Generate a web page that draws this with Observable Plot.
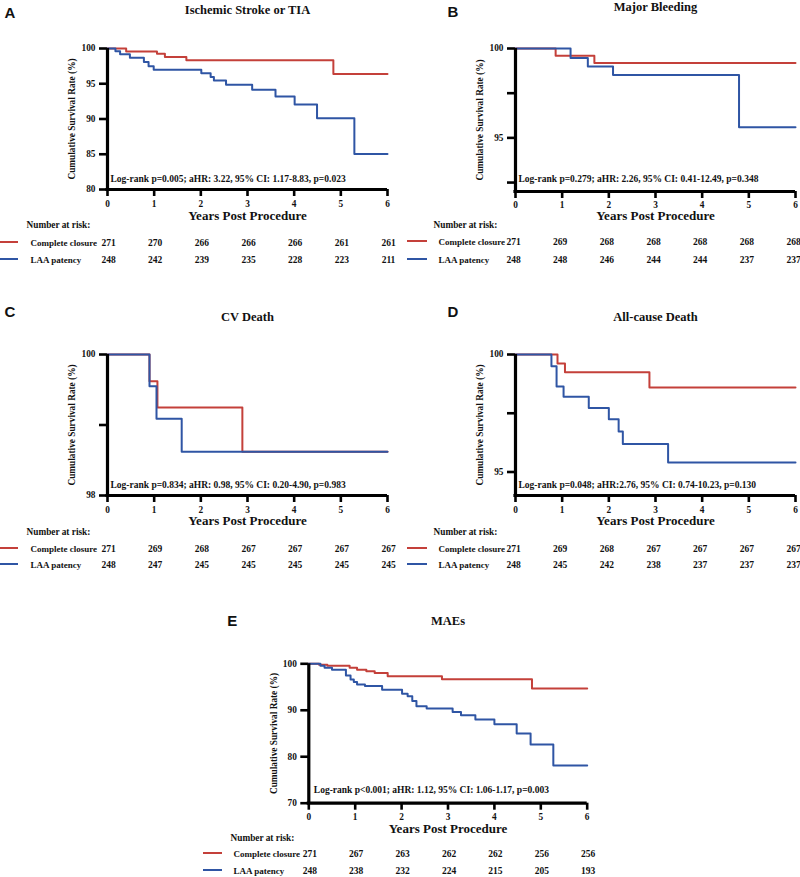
<!DOCTYPE html>
<html><head><meta charset="utf-8">
<script src="https://cdn.jsdelivr.net/npm/d3@7"></script>
<script src="https://cdn.jsdelivr.net/npm/@observablehq/plot@0.6"></script>
<style>
body{margin:0;background:#fff;}
#root{position:relative;width:800px;height:877px;overflow:hidden;background:#fff;}
.panel{position:absolute;}
.sw{position:absolute;height:2px;}
</style></head><body><div id="root"></div>
<script>
const RED = "#c4403a", BLUE = "#2f55a4";
const years = [0, 1, 2, 3, 4, 5, 6];
const groups = ["Complete closure", "LAA patency"];
const yLabelText = "Cumulative Survival Rate (%)";
const xLabelText = "Years Post Procedure";
const narText = "Number at risk:";

// Panel A
const aTitle = "Ischemic Stroke or TIA";
const aStat = "Log-rank p=0.005; aHR: 3.22, 95% CI: 1.17-8.83, p=0.023";
const aClosureT = [0, 0.4, 1.06, 1.23, 1.69, 4.84, 6];
const aClosureS = [100, 99.57, 99.24, 98.8, 98.35, 96.4, 96.4];
const aPatencyT = [0, 0.17, 0.27, 0.48, 0.78, 0.88, 0.99, 2.01, 2.21, 2.28, 2.54, 3.1, 3.6, 4.01, 4.49, 5.29, 6];
const aPatencyS = [100, 99.6, 99.2, 98.7, 98.1, 97.5, 97.0, 96.5, 95.95, 95.45, 94.85, 94.15, 93.2, 92.05, 90.1, 85.05, 85.05];
const aRiskC = [271, 270, 266, 266, 266, 261, 261];
const aRiskP = [248, 242, 239, 235, 228, 223, 211];
const aYDomain = [80, 100];
const aYTicks = [80, 85, 90, 95, 100];
const aYLabeled = [80, 85, 90, 95, 100];

// Panel B
const bTitle = "Major Bleeding";
const bStat = "Log-rank p=0.279; aHR: 2.26, 95% CI: 0.41-12.49, p=0.348";
const bClosureT = [0, 0.86, 1.69, 6];
const bClosureS = [100, 99.6, 99.19, 99.19];
const bPatencyT = [0, 1.18, 1.55, 2.09, 4.79, 6];
const bPatencyS = [100, 99.47, 99.0, 98.52, 95.6, 95.6];
const bRiskC = [271, 269, 268, 268, 268, 268, 268];
const bRiskP = [248, 248, 246, 244, 244, 237, 237];
const bYDomain = [92, 100];
const bYTicks = [92.5, 95, 97.5, 100];
const bYLabeled = [95, 100];

// Panel C
const cTitle = "CV Death";
const cStat = "Log-rank p=0.834; aHR: 0.98, 95% CI: 0.20-4.90, p=0.983";
const cClosureT = [0, 0.9, 1.07, 2.89, 6];
const cClosureS = [100, 99.62, 99.25, 98.62, 98.62];
const cPatencyT = [0, 0.9, 1.05, 1.59, 6];
const cPatencyS = [100, 99.55, 99.09, 98.62, 98.62];
const cRiskC = [271, 269, 268, 267, 267, 267, 267];
const cRiskP = [248, 247, 245, 245, 245, 245, 245];
const cYDomain = [98, 100];
const cYTicks = [98, 99, 100];
const cYLabeled = [98, 100];

// Panel D
const dTitle = "All-cause Death";
const dStat = "Log-rank p=0.048; aHR:2.76, 95% CI: 0.74-10.23, p=0.130";
const dClosureT = [0, 0.9, 1.06, 2.87, 6];
const dClosureS = [100, 99.62, 99.24, 98.6, 98.6];
const dPatencyT = [0, 0.77, 0.88, 1.03, 1.57, 2.0, 2.21, 2.3, 3.27, 6];
const dPatencyS = [100, 99.5, 98.64, 98.2, 97.72, 97.25, 96.72, 96.19, 95.4, 95.4];
const dRiskC = [271, 269, 268, 267, 267, 267, 267];
const dRiskP = [248, 245, 242, 238, 237, 237, 237];
const dYDomain = [94, 100];
const dYTicks = [95, 97.5, 100];
const dYLabeled = [95, 100];

// Panel E
const eTitle = "MAEs";
const eStat = "Log-rank p<0.001; aHR: 1.12, 95% CI: 1.06-1.17, p=0.003";
const eClosureT = [0, 0.22, 0.4, 0.88, 1.04, 1.24, 1.42, 1.7, 2.87, 4.81, 6];
const eClosureS = [100, 99.8, 99.57, 99.14, 98.7, 98.4, 98.0, 97.3, 96.7, 94.7, 94.7];
const ePatencyT = [0, 0.25, 0.34, 0.5, 0.8, 0.9, 0.97, 1.04, 1.21, 1.58, 2.01, 2.13, 2.23, 2.32, 2.54, 3.1, 3.28, 3.59, 4.0, 4.48, 4.78, 5.27, 6];
const ePatencyS = [100, 99.57, 99.14, 98.7, 97.5, 96.6, 96.06, 95.57, 95.2, 94.4, 93.57, 93.0, 92.0, 90.86, 90.36, 89.64, 88.93, 88.0, 87.0, 85.0, 82.65, 78.1, 78.1];
const eRiskC = [271, 267, 263, 262, 262, 256, 256];
const eRiskP = [248, 238, 232, 224, 215, 205, 193];
const eYDomain = [70, 100];
const eYTicks = [70, 80, 90, 100];
const eYLabeled = [70, 80, 90, 100];

function km(ts, ss, g) { return ts.map((t, i) => ({t, s: ss[i], g})); }

const root = document.getElementById("root");

function panel(d, L) {
  const data = km(d.cT, d.cS, groups[0]).concat(km(d.pT, d.pS, groups[1]));
  const fw = L.w - L.ml - L.mr;
  const fh = L.h - L.mt - L.mb;
  const p = Plot.plot({
    width: L.w, height: L.h,
    marginLeft: L.ml, marginRight: L.mr, marginTop: L.mt, marginBottom: L.mb,
    style: {fontFamily: "Liberation Serif", fontWeight: "bold", fontSize: "9.5px", overflow: "visible", background: "transparent", color: "#111"},
    x: {domain: [0, 6], axis: null},
    y: {domain: d.yDomain, axis: null},
    color: {domain: groups, range: [RED, BLUE]},
    marks: [
      Plot.tickX(years, {x: v => v, insetTop: fh, insetBottom: -7, strokeWidth: 2.6, stroke: "#000"}),
      Plot.tickY(d.yTicks, {y: v => v, insetLeft: -8, insetRight: fw, strokeWidth: 2.6, stroke: "#000"}),
      Plot.text(years, {x: v => v, text: v => String(v), frameAnchor: "bottom", dy: L.xLab, lineAnchor: "bottom", fontSize: 9.3}),
      Plot.text(d.yLabeled, {y: v => v, text: v => String(v), frameAnchor: "left", dx: -12, textAnchor: "end", lineAnchor: "middle", fontSize: 9.3}),
      Plot.line(data, {x: "t", y: "s", z: "g", stroke: "g", curve: "step-after", strokeWidth: 2}),
      Plot.ruleY([d.yDomain[0]], {strokeWidth: 3.2, stroke: "#000", insetLeft: -1.6}),
      Plot.ruleX([0], {strokeWidth: 3.2, stroke: "#000"}),
      Plot.text([d.title], {frameAnchor: "top", dy: L.titleDy, lineAnchor: "bottom", fontSize: 12.5}),
      Plot.text([d.letter], {frameAnchor: "top-left", dx: L.letterDx, dy: L.letterDy, textAnchor: "start", lineAnchor: "bottom", fontFamily: "Liberation Sans", fontSize: 15}),
      Plot.text([yLabelText], {frameAnchor: "left", dx: -35, rotate: -90, textAnchor: "middle", fontSize: 9.3}),
      Plot.text([d.stat], {frameAnchor: "bottom-left", dx: L.statDx, dy: L.statDy, textAnchor: "start", lineAnchor: "bottom", fontSize: 9.5}),
      Plot.text([xLabelText], {frameAnchor: "bottom", dy: L.yearsDy, lineAnchor: "bottom", fontSize: 13}),
      Plot.text([narText], {frameAnchor: "bottom-left", dx: L.narDx, dy: L.narDy, textAnchor: "start", lineAnchor: "bottom", fontSize: 9.3}),
      Plot.text([groups[0]], {frameAnchor: "bottom-left", dx: L.labelDx, dy: L.row1, textAnchor: "start", lineAnchor: "bottom", fontSize: 9}),
      Plot.text([groups[1]], {frameAnchor: "bottom-left", dx: L.labelDx, dy: L.row2, textAnchor: "start", lineAnchor: "bottom", fontSize: 9}),
      Plot.text(years, {x: v => v, text: (v, i) => String(d.riskC[i]), frameAnchor: "bottom", dx: L.numDx, dy: L.row1, lineAnchor: "bottom", fontSize: 9.5}),
      Plot.text(years, {x: v => v, text: (v, i) => String(d.riskP[i]), frameAnchor: "bottom", dx: L.numDx, dy: L.row2, lineAnchor: "bottom", fontSize: 9.5})
    ]
  });
  const wrap = document.createElement("div");
  wrap.className = "panel";
  wrap.style.left = L.left + "px";
  wrap.style.top = L.top + "px";
  wrap.appendChild(p);
  root.appendChild(wrap);
  const bottomAbs = L.top + L.h - L.mb;
  [[L.row1, RED], [L.row2, BLUE]].forEach(([r, c]) => {
    const s = document.createElement("div");
    s.className = "sw";
    s.style.left = L.swX + "px";
    s.style.width = L.swW + "px";
    s.style.top = (bottomAbs + r - 4.5) + "px";
    s.style.background = c;
    root.appendChild(s);
  });
}

panel({letter: "A", title: aTitle, stat: aStat, cT: aClosureT, cS: aClosureS, pT: aPatencyT, pS: aPatencyS, riskC: aRiskC, riskP: aRiskP, yDomain: aYDomain, yTicks: aYTicks, yLabeled: aYLabeled},
  {left: 0, top: 0, w: 400, h: 275, ml: 107, mr: 13, mt: 48, mb: 86, xLab: 17, titleDy: -35, letterDx: -103, letterDy: -31, statDx: 3, statDy: -8, yearsDy: 30.5, narDx: -81, narDy: 38.5, labelDx: -77, row1: 56, row2: 73.5, numDx: 1, swX: 0, swW: 18});
panel({letter: "B", title: bTitle, stat: bStat, cT: bClosureT, cS: bClosureS, pT: bPatencyT, pS: bPatencyS, riskC: bRiskC, riskP: bRiskP, yDomain: bYDomain, yTicks: bYTicks, yLabeled: bYLabeled},
  {left: 400, top: 0, w: 400, h: 275, ml: 115, mr: 5, mt: 48, mb: 84, xLab: 16, titleDy: -38, letterDx: -68, letterDy: -32, statDx: 3, statDy: -10, yearsDy: 28.5, narDx: -82, narDy: 36, labelDx: -77, row1: 53.5, row2: 71, numDx: -2, swX: 407, swW: 20});
panel({letter: "C", title: cTitle, stat: cStat, cT: cClosureT, cS: cClosureS, pT: cPatencyT, pS: cPatencyS, riskC: cRiskC, riskP: cRiskP, yDomain: cYDomain, yTicks: cYTicks, yLabeled: cYLabeled},
  {left: 0, top: 290, w: 400, h: 290, ml: 107, mr: 13, mt: 64, mb: 85, xLab: 17, titleDy: -34, letterDx: -103, letterDy: -38, statDx: 3, statDy: -8, yearsDy: 29.5, narDx: -81, narDy: 39.5, labelDx: -77, row1: 56, row2: 72.5, numDx: 1, swX: 0, swW: 18});
panel({letter: "D", title: dTitle, stat: dStat, cT: dClosureT, cS: dClosureS, pT: dPatencyT, pS: dPatencyS, riskC: dRiskC, riskP: dRiskP, yDomain: dYDomain, yTicks: dYTicks, yLabeled: dYLabeled},
  {left: 400, top: 290, w: 400, h: 290, ml: 115, mr: 5, mt: 64, mb: 85, xLab: 17, titleDy: -34, letterDx: -68, letterDy: -38, statDx: 3, statDy: -8, yearsDy: 29.5, narDx: -82, narDy: 39.5, labelDx: -77, row1: 56, row2: 72.5, numDx: -2, swX: 407, swW: 20});
panel({letter: "E", title: eTitle, stat: eStat, cT: eClosureT, cS: eClosureS, pT: ePatencyT, pS: ePatencyS, riskC: eRiskC, riskP: eRiskP, yDomain: eYDomain, yTicks: eYTicks, yLabeled: eYLabeled},
  {left: 200, top: 580, w: 420, h: 297, ml: 108.3, mr: 33.3, mt: 83.3, mb: 74.3, xLab: 17, titleDy: -39, letterDx: -81.6, letterDy: -38, statDx: 5, statDy: -10, yearsDy: 29.5, narDx: -78.3, narDy: 37.5, labelDx: -75.3, row1: 53.5, row2: 71, numDx: 1, swX: 203, swW: 19});
</script>
</body></html>
